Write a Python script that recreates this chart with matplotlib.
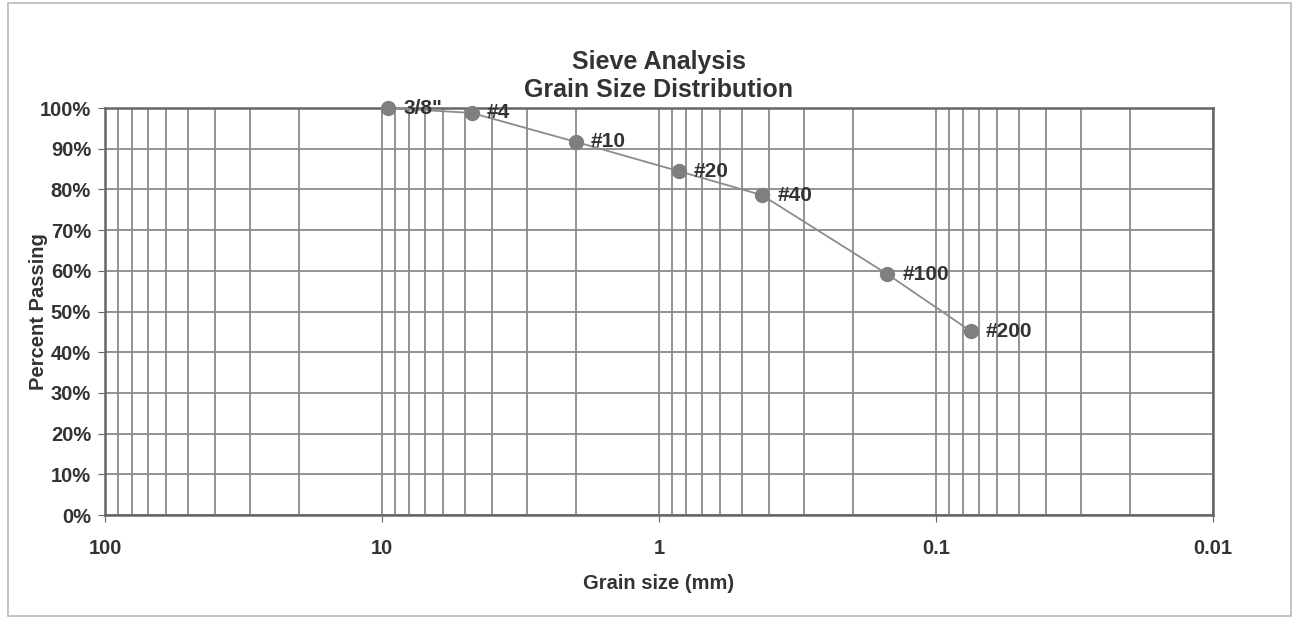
import numpy as np
import matplotlib.pyplot as plt
from matplotlib.ticker import FixedLocator, FuncFormatter, LogLocator, NullFormatter
from matplotlib.patches import Rectangle

plt.rcParams['font.family'] = ['Liberation Sans', 'DejaVu Sans']

# sieve data
sieves = ['3/8"', '#4', '#10', '#20', '#40', '#100', '#200']
size_mm = [9.5, 4.75, 2.0, 0.85, 0.425, 0.15, 0.075]
passing = [100.0, 98.8, 91.7, 84.5, 78.6, 59.2, 45.2]

x_ticks = [100, 10, 1, 0.1, 0.01]
x_tick_labels = ['100', '10', '1', '0.1', '0.01']
y_ticks = [0, 10, 20, 30, 40, 50, 60, 70, 80, 90, 100]

grid_col = '#8a8a8a'
txt_col = '#333333'

fig = plt.figure(figsize=(12.99, 6.19), dpi=100)
ax = fig.add_axes([0.0808, 0.168, 0.853, 0.6575])

ax.set_xscale('log')
ax.set_xlim(100, 0.01)
ax.set_ylim(0, 100)

ax.xaxis.set_major_locator(FixedLocator(x_ticks))
ax.xaxis.set_major_formatter(FuncFormatter(lambda v, p: x_tick_labels[x_ticks.index(v)] if v in x_ticks else ''))
ax.xaxis.set_minor_locator(LogLocator(base=10, subs=np.arange(2, 10)))
ax.xaxis.set_minor_formatter(NullFormatter())
ax.yaxis.set_major_locator(FixedLocator(y_ticks))
ax.yaxis.set_major_formatter(FuncFormatter(lambda v, p: '%d%%' % v))

ax.grid(True, which='both', axis='x', color=grid_col, lw=1.3)
ax.grid(True, which='major', axis='y', color=grid_col, lw=1.3)
ax.set_axisbelow(True)

for s in ax.spines.values():
    s.set_color('#666666')
    s.set_linewidth(1.8)

ax.tick_params(axis='both', which='major', length=5, color='#666666',
               labelsize=14.5, labelcolor=txt_col, pad=5)
ax.tick_params(axis='x', which='minor', length=0)
ax.tick_params(axis='x', which='major', pad=12)
for lbl in ax.get_xticklabels() + ax.get_yticklabels():
    lbl.set_fontweight('bold')

ax.plot(size_mm, passing, color='#8c8c8c', lw=1.3, marker='o', markersize=10,
        markerfacecolor='#7f7f7f', markeredgecolor='#7f7f7f', zorder=3, clip_on=False)

for name, x, y in zip(sieves, size_mm, passing):
    ax.annotate(name, (x, y), xytext=(11, 0), textcoords='offset points',
                ha='left', va='center', fontsize=15, fontweight='bold', color=txt_col)

ax.set_title('Sieve Analysis\nGrain Size Distribution', fontsize=18, fontweight='bold',
             color=txt_col, pad=8, linespacing=1.2)
ax.set_xlabel('Grain size (mm)', fontsize=14.5, fontweight='bold', color=txt_col, labelpad=12)
ax.set_ylabel('Percent Passing', fontsize=14.5, fontweight='bold', color=txt_col, labelpad=-6)

# chart area border
fig.patches.append(Rectangle((0.006, 0.005), 0.988, 0.99, transform=fig.transFigure,
                             fill=False, edgecolor='#bbbbbb', lw=1.2))

fig.savefig('out.png', dpi=100)
